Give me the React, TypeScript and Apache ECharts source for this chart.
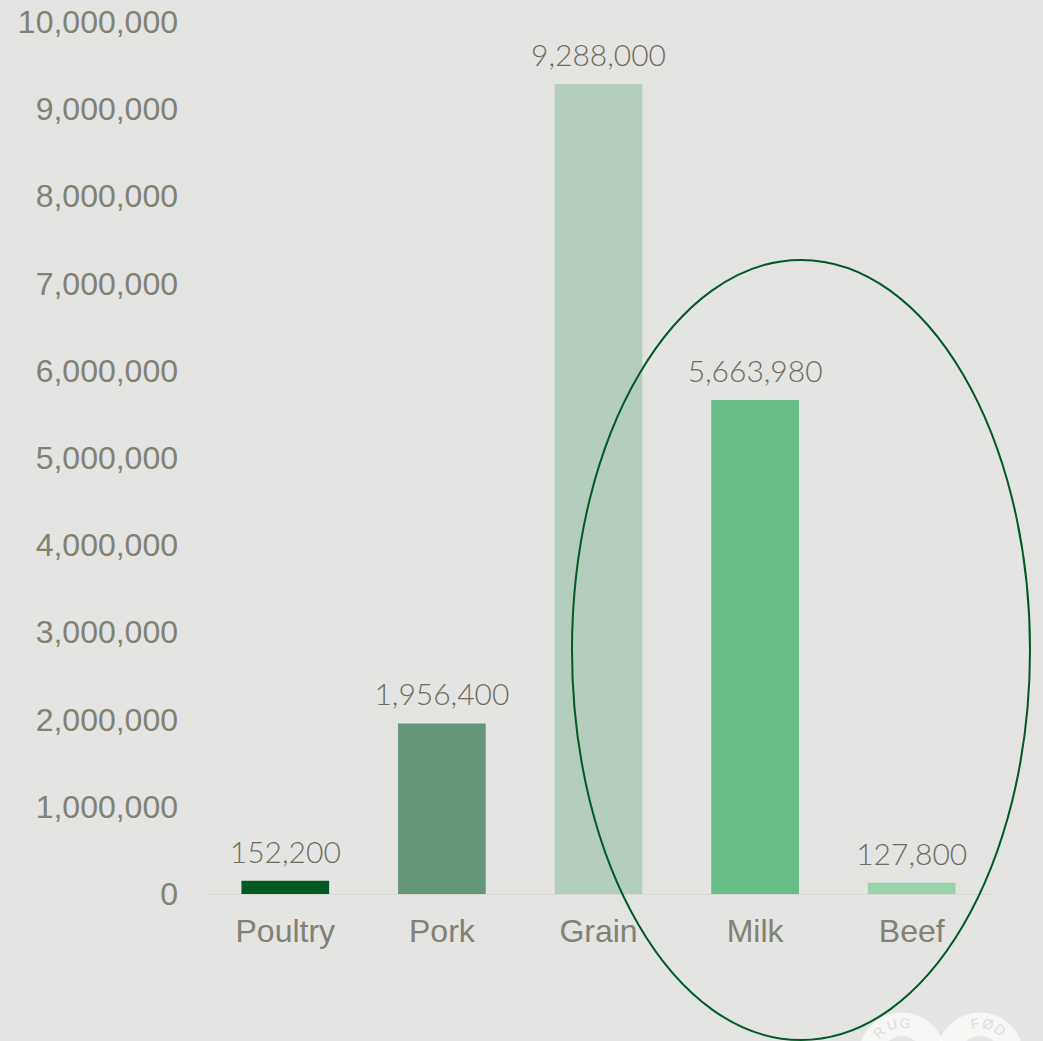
import React, { useEffect, useRef } from "react";
import * as echarts from "echarts";

const categories = ["Poultry", "Pork", "Grain", "Milk", "Beef"];
const values = [152200, 1956400, 9288000, 5663980, 127800];
const barColors = ["#005a24", "#64977a", "#b4cdbd", "#66bd85", "#98d4ab"];
const yMax = 10000000;
const yInterval = 1000000;

// watermark letters: [char, ring index, dx from ring centre]
const logoRings = [902, 980];
const logoLetters: [string, number, number][] = [
  ["R", 0, -23],
  ["U", 0, -10],
  ["G", 0, 3],
  ["F", 1, -5],
  ["Ø", 1, 8],
  ["D", 1, 20],
];

export default function App() {
  const ref = useRef<HTMLDivElement>(null);
  useEffect(() => {
    document.body.style.margin = "0";
    document.body.style.background = "#e4e4e2";
    const chart = echarts.init(ref.current!, null, { renderer: "svg" });
    const fmt = (v: number) => v.toLocaleString("en-US");
    const cy = 1056;
    const rr = 33;
    const letterEls = logoLetters.map(([ch, ri, dx]) => {
      const up = Math.sqrt(rr * rr - dx * dx);
      return {
        type: "text",
        x: logoRings[ri] + dx,
        y: cy - up,
        rotation: -Math.atan2(dx, up),
        style: {
          text: ch,
          fill: "#dcdcda",
          font: "14px 'Liberation Sans'",
          align: "center",
          verticalAlign: "middle",
        },
      };
    });
    chart.setOption({
      animation: false,
      backgroundColor: "#e4e4e2",
      grid: { left: 207, right: 53, top: 22, bottom: 147 },
      xAxis: {
        type: "category",
        data: categories,
        axisLine: { show: true, lineStyle: { color: "#d8d8d4", width: 1 } },
        axisTick: { show: false },
        axisLabel: {
          color: "#818174",
          fontFamily: "Liberation Sans, Arial, sans-serif",
          fontSize: 32,
          margin: 21,
        },
      },
      yAxis: {
        type: "value",
        min: 0,
        max: yMax,
        interval: yInterval,
        splitLine: { show: false },
        axisLine: { show: false },
        axisTick: { show: false },
        axisLabel: {
          color: "#818174",
          fontFamily: "Liberation Sans, Arial, sans-serif",
          fontSize: 32,
          margin: 29,
          formatter: (v: number) => fmt(v),
        },
      },
      series: [
        {
          type: "bar",
          barWidth: "56%",
          data: values.map((v, i) => ({ value: v, itemStyle: { color: barColors[i] } })),
          label: {
            show: true,
            position: "top",
            distance: 15,
            color: "#6c6c60",
            fontFamily: "Lato, sans-serif",
            fontWeight: 300,
            fontSize: 30,
            formatter: (p: any) => fmt(p.value),
          },
        },
      ],
      graphic: [
        {
          type: "group",
          silent: true,
          z: 1,
          children: [
            ...logoRings.map((cx) => ({
              type: "ring",
              shape: { cx, cy, r: 43.5, r0: 20 },
              style: { fill: "rgba(255,255,255,0.65)" },
            })),
            ...letterEls,
          ],
        },
        {
          type: "ellipse",
          z: 10,
          silent: true,
          shape: { cx: 801, cy: 650, rx: 229, ry: 390 },
          style: { fill: "none", stroke: "#005a24", lineWidth: 2 },
        },
      ],
    });
    return () => chart.dispose();
  }, []);
  return <div ref={ref} style={{ width: 1043, height: 1041 }} />;
}
